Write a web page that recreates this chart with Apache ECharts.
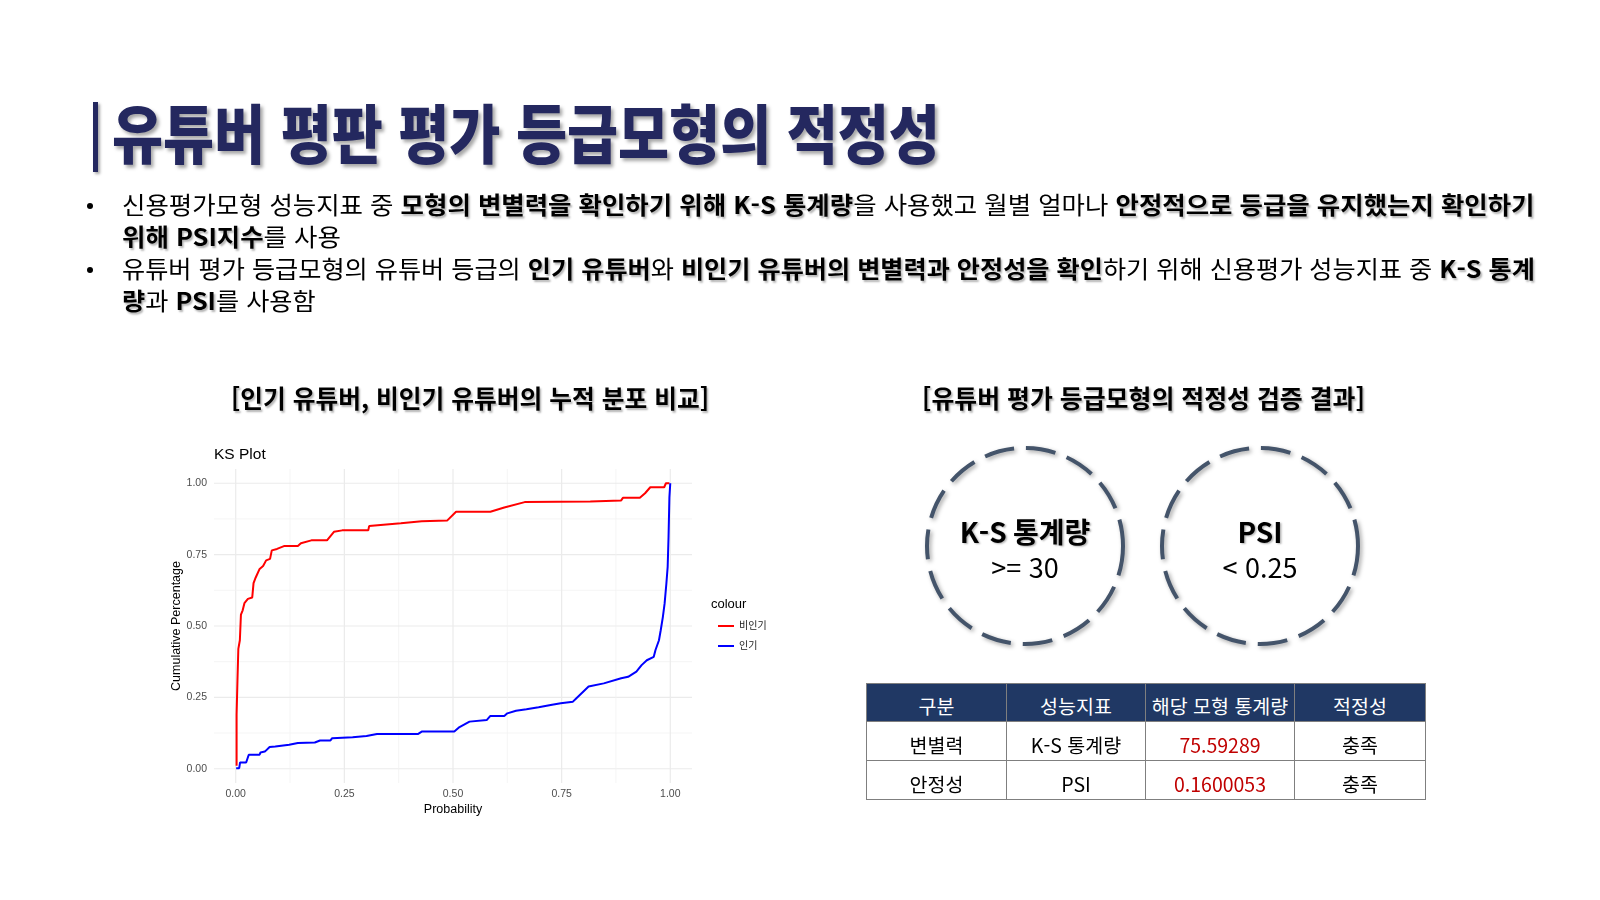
<!DOCTYPE html>
<html lang="ko">
<head>
<meta charset="utf-8">
<title>유튜버 평판 평가 등급모형의 적정성</title>
<script src="https://cdn.jsdelivr.net/npm/echarts@6/dist/echarts.min.js"></script>
<style>
html, body { margin: 0; padding: 0; background: #fff; }
body { width: 1600px; height: 900px; position: relative; overflow: hidden;
       font-family: 'Noto Sans CJK KR', 'Noto Sans', sans-serif; color: #000; }
#chart { position: absolute; left: 0; top: 0; width: 1600px; height: 900px; }
.fit { position: absolute; white-space: nowrap; transform-origin: 0 50%; }
#titleBar { position: absolute; left: 93px; top: 102px; width: 5px; height: 70px;
            background: #24285f; box-shadow: 2px 2px 3px rgba(0,0,0,.35); }
#title { left: 112px; top: 93px; font-size: 64px; line-height: 74px; font-weight: 900;
         color: #24285f; text-shadow: 3px 3px 4px rgba(0,0,0,.35); }
.bl { left: 122px; font-size: 24px; line-height: 32px; }
.bl b { font-weight: 700; text-shadow: 1.5px 1.5px 2px rgba(0,0,0,.3); }
.dot { position: absolute; left: 87px; width: 6px; height: 6px; border-radius: 50%; background: #000; }
.sub { font-size: 25px; line-height: 32px; font-weight: 700; text-shadow: 1.5px 1.5px 2px rgba(0,0,0,.3); }
#tbl { position: absolute; left: 866px; top: 683px; border-collapse: collapse; table-layout: fixed;
       width: 560px; font-size: 19.5px; }
#tbl th, #tbl td { padding: 0; border: 1px solid #7f7f7f; text-align: center; }
#tbl th { background: #203864; color: #fff; font-weight: 400; height: 37px; }
#tbl td { height: 38px; }
#tbl .cell { display: block; position: relative; top: 3px; }
#tbl td.val { color: #c00000; }
</style>
</head>
<body>
<div id="chart"></div>

<div id="titleBar"></div>
<div id="title" class="fit">유튜버 평판 평가 등급모형의 적정성</div>

<div class="dot" style="top:203px"></div>
<div class="dot" style="top:267px"></div>
<div id="b1" class="fit bl" style="top:188px">신용평가모형 성능지표 중 <b>모형의 변별력을 확인하기 위해 K-S 통계량</b>을 사용했고 월별 얼마나 <b>안정적으로 등급을 유지했는지 확인하기</b></div>
<div id="b2" class="fit bl" style="top:220px"><b>위해 PSI지수</b>를 사용</div>
<div id="b3" class="fit bl" style="top:252px">유튜버 평가 등급모형의 유튜버 등급의 <b>인기 유튜버</b>와 <b>비인기 유튜버의 변별력과 안정성을 확인</b>하기 위해 신용평가 성능지표 중 <b>K-S 통계</b></div>
<div id="b4" class="fit bl" style="top:284px"><b>량</b>과 <b>PSI</b>를 사용함</div>

<div id="s1" class="fit sub" style="top:381px">[인기 유튜버, 비인기 유튜버의 누적 분포 비교]</div>
<div id="s2" class="fit sub" style="top:381px">[유튜버 평가 등급모형의 적정성 검증 결과]</div>

<table id="tbl"></table>

<script>
// KS plot: cumulative distribution of predicted probability
var probNonPopular = [0.002, 0.002, 0.004, 0.006, 0.0095, 0.012, 0.016, 0.020, 0.028, 0.038, 0.041, 0.046,
  0.055, 0.063, 0.070, 0.079, 0.083, 0.095, 0.111, 0.143, 0.150, 0.174, 0.210, 0.226, 0.245, 0.305, 0.307,
  0.340, 0.380, 0.428, 0.487, 0.507, 0.586, 0.618, 0.665, 0.816, 0.819, 0.887, 0.891, 0.930, 0.942, 0.954,
  0.986, 0.990, 0.998];
var cumNonPopular = [0.01, 0.19, 0.31, 0.42, 0.45, 0.54, 0.555, 0.58, 0.595, 0.60, 0.65, 0.67,
  0.70, 0.71, 0.73, 0.735, 0.765, 0.77, 0.78, 0.78, 0.79, 0.80, 0.80, 0.83, 0.835, 0.835, 0.85,
  0.855, 0.86, 0.867, 0.87, 0.90, 0.90, 0.915, 0.934, 0.936, 0.94, 0.94, 0.949, 0.949, 0.965, 0.986,
  0.986, 1.0, 1.0];
var probPopular = [0.001, 0.008, 0.010, 0.024, 0.030, 0.055, 0.057, 0.067, 0.078, 0.091, 0.095, 0.123,
  0.143, 0.182, 0.194, 0.218, 0.222, 0.269, 0.301, 0.325, 0.420, 0.428, 0.503, 0.515, 0.538, 0.578,
  0.586, 0.618, 0.625, 0.645, 0.669, 0.697, 0.728, 0.748, 0.776, 0.784, 0.812, 0.847, 0.887, 0.903,
  0.922, 0.934, 0.946, 0.962, 0.966, 0.974, 0.978, 0.983, 0.987, 0.991, 0.994, 0.996, 0.998, 1.0];
var cumPopular = [0.002, 0.002, 0.022, 0.022, 0.049, 0.049, 0.057, 0.060, 0.076, 0.078, 0.084, 0.084,
  0.090, 0.092, 0.099, 0.099, 0.107, 0.110, 0.115, 0.122, 0.122, 0.130, 0.130, 0.146, 0.165, 0.171,
  0.185, 0.185, 0.194, 0.203, 0.208, 0.215, 0.224, 0.229, 0.235, 0.247, 0.288, 0.299, 0.317, 0.322,
  0.340, 0.363, 0.380, 0.392, 0.416, 0.450, 0.485, 0.532, 0.579, 0.648, 0.707, 0.811, 0.951, 1.0];
var seriesNames = ['비인기', '인기'];
var tickLabels = [0, 0.25, 0.5, 0.75, 1];
var gridBreaks = [0, 0.125, 0.25, 0.375, 0.5, 0.625, 0.75, 0.875, 1];

// right panel
var criteriaNames = ['K-S 통계량', 'PSI'];
var criteriaRules = ['>= 30', '< 0.25'];
var tableHeader = ['구분', '성능지표', '해당 모형 통계량', '적정성'];
var tableRows = [
  ['변별력', 'K-S 통계량', '75.59289', '충족'],
  ['안정성', 'PSI', '0.1600053', '충족']
];

function pairs(xs, ys) {
  var out = [];
  for (var i = 0; i < xs.length; i++) out.push([xs[i], ys[i]]);
  return out;
}

var plotFont = "'Liberation Sans', 'Noto Sans CJK KR', sans-serif";
var series = [];
gridBreaks.forEach(function (v, i) {
  var major = i % 2 === 0;
  var ls = { color: major ? '#ebebeb' : '#f2f2f2', width: major ? 1.2 : 0.8 };
  series.push({ type: 'line', data: [[v, -0.05], [v, 1.05]], symbol: 'none', silent: true, z: 1, lineStyle: ls });
  series.push({ type: 'line', data: [[-0.05, v], [1.05, v]], symbol: 'none', silent: true, z: 1, lineStyle: ls });
});
series.push({
  name: seriesNames[0], type: 'line', data: pairs(probNonPopular, cumNonPopular),
  showSymbol: false, color: '#ff0000', lineStyle: { width: 2 }, z: 3
});
series.push({
  name: seriesNames[1], type: 'line', data: pairs(probPopular, cumPopular),
  showSymbol: false, color: '#0000ff', lineStyle: { width: 2 }, z: 3
});

var graphics = [
  { type: 'text', left: 214, top: 447, style: { text: 'KS Plot', fontSize: 15.5, fill: '#000', fontFamily: plotFont } },
  { type: 'text', left: 711, top: 598, style: { text: 'colour', fontSize: 13, fill: '#000', fontFamily: plotFont } }
];
var circleX = [1025, 1260];
criteriaNames.forEach(function (name, i) {
  graphics.push({
    type: 'circle', shape: { cx: circleX[i], cy: 546, r: 98 },
    style: { fill: 'none', stroke: '#44546a', lineWidth: 4, lineDash: [30, 12],
             shadowBlur: 4, shadowColor: 'rgba(0,0,0,0.35)', shadowOffsetX: 2, shadowOffsetY: 2 }
  });
  graphics.push({
    type: 'text', x: circleX[i], y: 532,
    style: { text: name, fontSize: 28, fontWeight: 'bold', fill: '#000', align: 'center', verticalAlign: 'middle',
             fontFamily: "'Noto Sans CJK KR', sans-serif",
             textShadowColor: 'rgba(0,0,0,0.3)', textShadowBlur: 2, textShadowOffsetX: 1.5, textShadowOffsetY: 1.5 }
  });
  graphics.push({
    type: 'text', x: circleX[i], y: 568,
    style: { text: criteriaRules[i], fontSize: 27, fill: '#000', align: 'center', verticalAlign: 'middle',
             fontFamily: "'Noto Sans CJK KR', sans-serif" }
  });
});

var chart = echarts.init(document.getElementById('chart'));
chart.setOption({
  animation: false,
  grid: { left: 214, top: 469, width: 478, height: 314 },
  xAxis: {
    type: 'value', min: -0.05, max: 1.05,
    axisLine: { show: false }, axisTick: { show: false }, splitLine: { show: false },
    axisLabel: { customValues: tickLabels, formatter: function (v) { return v.toFixed(2); },
                 color: '#4d4d4d', fontSize: 10.5, margin: 6, fontFamily: plotFont },
    name: 'Probability', nameLocation: 'middle', nameGap: 20,
    nameTextStyle: { color: '#000', fontSize: 12.5, fontFamily: plotFont }
  },
  yAxis: {
    type: 'value', min: -0.05, max: 1.05,
    axisLine: { show: false }, axisTick: { show: false }, splitLine: { show: false },
    axisLabel: { customValues: tickLabels, formatter: function (v) { return v.toFixed(2); },
                 color: '#4d4d4d', fontSize: 10.5, margin: 7, fontFamily: plotFont },
    name: 'Cumulative Percentage', nameLocation: 'middle', nameGap: 29, nameRotate: 90,
    nameTextStyle: { color: '#000', fontSize: 12.5, fontFamily: plotFont }
  },
  legend: {
    data: seriesNames, orient: 'vertical', left: 713, top: 616, icon: 'rect',
    itemWidth: 16, itemHeight: 2, itemGap: 10,
    textStyle: { fontSize: 10, color: '#1a1a1a', fontFamily: plotFont }
  },
  graphic: graphics,
  series: series
});

// table
var tbl = document.getElementById('tbl');
var colWidths = [140, 139, 149, 131];
var html = '<colgroup>' + colWidths.map(function (w) { return '<col style="width:' + w + 'px">'; }).join('') + '</colgroup>';
html += '<tr>' + tableHeader.map(function (h) { return '<th><span class="cell">' + h + '</span></th>'; }).join('') + '</tr>';
tableRows.forEach(function (r) {
  html += '<tr>' + r.map(function (c, j) {
    return '<td' + (j === 2 ? ' class="val"' : '') + '><span class="cell">' + c + '</span></td>';
  }).join('') + '</tr>';
});
tbl.innerHTML = html;

// squeeze slide text to the reference widths
function fitTo(id, width, scaleFrom) {
  var el = document.getElementById(id);
  var s = scaleFrom || width / el.offsetWidth;
  el.style.transform = 'scaleX(' + s + ')';
  return s;
}
function fitCentered(id, width, center) {
  var el = document.getElementById(id);
  el.style.left = (center - width / 2) + 'px';
  fitTo(id, width);
}
function fitAll() {
  fitTo('title', 828);
  var s1 = fitTo('b1', 1413);
  fitTo('b2', 0, s1);
  var s3 = fitTo('b3', 1413);
  fitTo('b4', 0, s3);
  fitCentered('s1', 478, 470);
  fitCentered('s2', 443, 1143);
}
fitAll();
if (document.fonts && document.fonts.ready) document.fonts.ready.then(fitAll);
</script>
</body>
</html>
